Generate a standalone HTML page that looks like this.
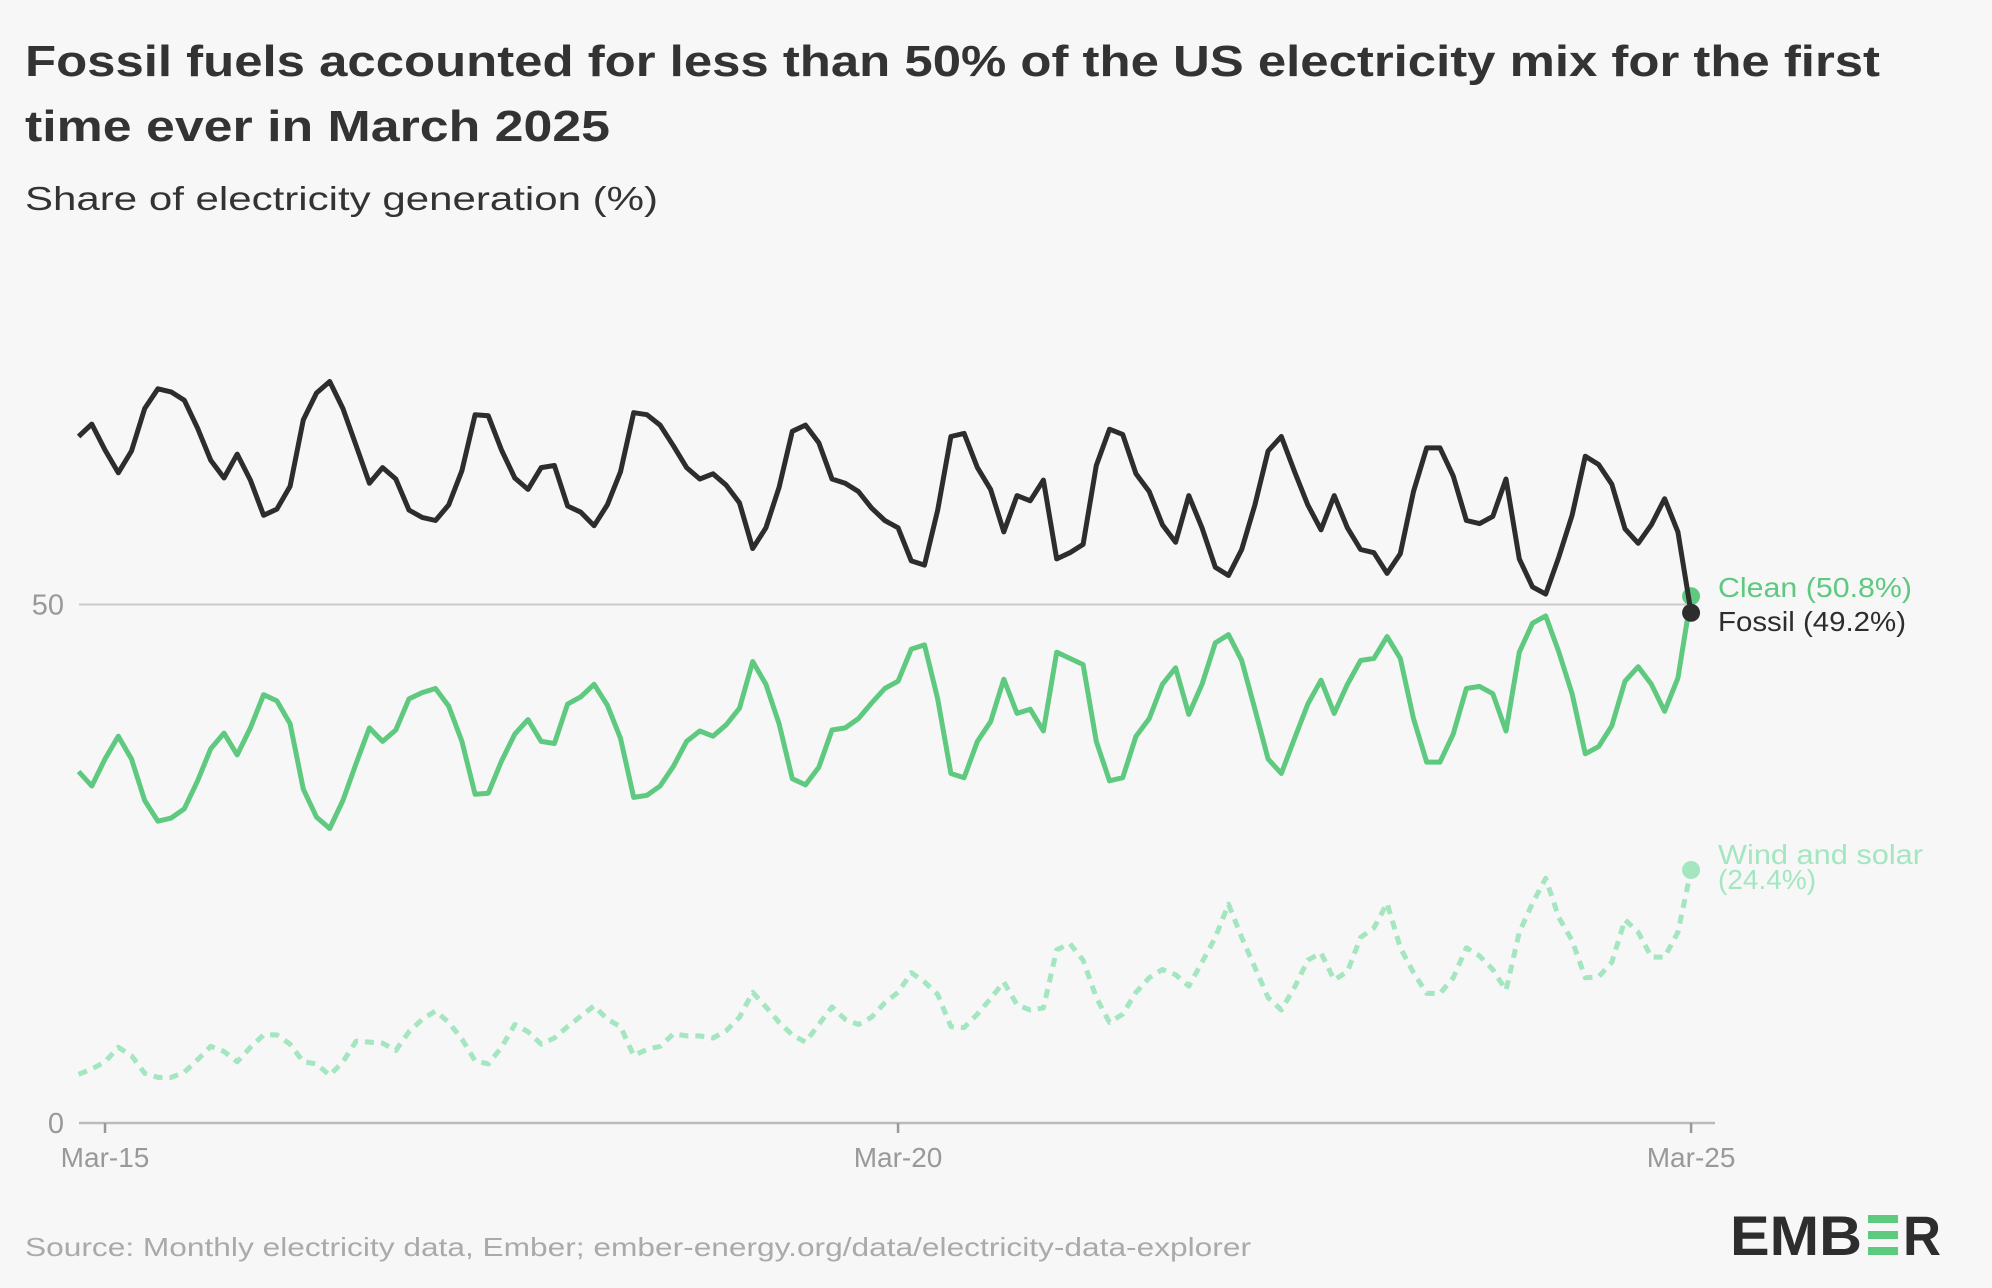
<!DOCTYPE html>
<html><head><meta charset="utf-8"><style>
html,body{margin:0;padding:0;background:#f7f7f7;}
svg{display:block;font-family:"Liberation Sans",sans-serif;}
</style></head><body>
<svg id="chart" width="1992" height="1288" viewBox="0 0 1992 1288" xmlns="http://www.w3.org/2000/svg">
<rect width="1992" height="1288" fill="#f7f7f7"/>
<text x="25" y="76" font-size="44" font-weight="bold" fill="#333" textLength="1855" lengthAdjust="spacingAndGlyphs">Fossil fuels accounted for less than 50% of the US electricity mix for the first</text>
<text x="25" y="141" font-size="44" font-weight="bold" fill="#333" textLength="585" lengthAdjust="spacingAndGlyphs">time ever in March 2025</text>
<text x="25" y="210" font-size="33" fill="#333" textLength="633" lengthAdjust="spacingAndGlyphs">Share of electricity generation (%)</text>
<g id="plot"></g>
<text x="25" y="1256" font-size="26" fill="#aaa" textLength="1226" lengthAdjust="spacingAndGlyphs">Source: Monthly electricity data, Ember; ember-energy.org/data/electricity-data-explorer</text>
<g>
<text x="1730" y="1255" font-size="56" font-weight="bold" fill="#2d2d2d" textLength="132" lengthAdjust="spacingAndGlyphs">EMB</text>
<rect x="1868" y="1215" width="30" height="8" fill="#5ec97f"/>
<rect x="1868" y="1231" width="30" height="8" fill="#5ec97f"/>
<rect x="1868" y="1247" width="30" height="8" fill="#5ec97f"/>
<text x="1903" y="1255" font-size="56" font-weight="bold" fill="#2d2d2d" textLength="38" lengthAdjust="spacingAndGlyphs">R</text>
</g>
</svg>
<script>
const fossil=[66.2,67.4,64.9,62.7,64.8,68.9,70.8,70.5,69.7,67.0,63.9,62.2,64.5,62.0,58.6,59.2,61.4,67.8,70.4,71.5,68.9,65.3,61.7,63.2,62.1,59.1,58.4,58.1,59.6,62.9,68.3,68.2,
64.9,62.2,61.1,63.2,63.4,59.5,58.9,57.6,59.6,62.8,68.5,68.3,67.3,65.3,63.2,62.1,62.6,61.5,59.8,55.4,57.4,61.3,66.7,67.3,65.6,62.1,61.7,60.9,59.3,58.1,57.4,
54.2,53.8,59.1,66.2,66.5,63.2,61.1,57.0,60.5,60.0,62.0,54.4,55.0,55.8,63.4,66.9,66.4,62.6,60.9,57.7,56.0,60.5,57.4,53.6,52.8,55.3,59.6,64.8,66.2,62.8,59.6,
57.2,60.5,57.4,55.3,55.0,53.0,54.9,60.9,65.1,65.1,62.4,58.1,57.8,58.5,62.1,54.4,51.7,51.0,54.6,58.6,64.3,63.5,61.6,57.3,55.9,57.7,60.2,57.0,49.2];
const clean=[33.9,32.5,35.1,37.3,35.1,31.1,29.1,29.4,30.3,33.0,36.1,37.6,35.5,38.1,41.3,40.7,38.5,32.2,29.5,28.4,31.1,34.7,38.1,36.8,37.9,40.9,41.5,41.9,40.2,36.8,31.7,31.8,
34.9,37.5,38.9,36.8,36.6,40.4,41.1,42.3,40.3,37.1,31.4,31.6,32.5,34.4,36.8,37.8,37.3,38.4,40.0,44.5,42.3,38.5,33.2,32.6,34.3,37.9,38.1,39.0,40.5,41.9,42.6,
45.7,46.1,40.9,33.7,33.3,36.8,38.7,42.8,39.5,39.9,37.8,45.4,44.8,44.2,36.8,33.0,33.3,37.3,39.0,42.3,43.9,39.4,42.3,46.3,47.1,44.6,39.9,35.1,33.7,37.1,40.4,
42.7,39.5,42.3,44.6,44.8,46.9,44.8,39.0,34.8,34.8,37.5,41.9,42.1,41.4,37.8,45.4,48.2,48.9,45.4,41.4,35.6,36.3,38.3,42.6,44.0,42.3,39.7,42.9,50.8];
const windSolar=[4.7,5.2,5.9,7.3,6.5,4.8,4.4,4.4,4.9,6.1,7.4,6.9,5.9,7.3,8.5,8.5,7.6,5.9,5.7,4.6,5.9,7.9,7.8,7.7,7.0,8.8,10.0,10.8,9.7,8.1,6.0,5.7,
7.3,9.5,8.8,7.6,8.2,9.3,10.3,11.3,10.0,9.3,6.5,7.1,7.4,8.6,8.4,8.4,8.2,8.9,10.2,12.6,11.2,9.7,8.5,7.8,9.5,11.2,10.0,9.5,10.2,11.6,12.6,
14.5,13.6,12.4,9.3,9.2,10.5,12.0,13.6,11.4,10.9,11.1,16.7,17.3,15.7,12.1,9.7,10.5,12.6,14.0,14.8,14.3,13.2,15.5,17.9,21.1,17.9,15.0,12.1,10.9,13.1,15.7,
16.4,13.8,14.6,17.9,18.8,21.2,16.9,14.5,12.5,12.5,14.0,16.9,16.1,14.8,12.8,18.4,21.2,23.6,19.8,17.6,14.0,14.1,15.5,19.6,18.4,16.0,16.0,18.4,24.4];
const xTickLabels=["Mar-15","Mar-20","Mar-25"];
const xTickIndex=[2,62,122];
const yTicks=[0,50];

const NS="http://www.w3.org/2000/svg";
const plot=document.getElementById('plot');
const x0=78.6, dx=13.217;
const xs=i=>x0+dx*i;
const ys=v=>1123-v*10.37;
function el(tag,attrs,parent){const e=document.createElementNS(NS,tag);for(const k in attrs)e.setAttribute(k,attrs[k]);(parent||plot).appendChild(e);return e;}

yTicks.forEach(t=>{
  if(t>0){const g=el('line',{x1:79,x2:1691,y1:ys(t),y2:ys(t),stroke:'#ccc','stroke-width':2});
    
    }
  const lab=el('text',{x:64,y:ys(t)+10,'font-size':29,fill:'#999','text-anchor':'end'});
  lab.textContent=String(t);
  
  
});
const axis=el('line',{x1:79,x2:1715,y1:1123,y2:1123,stroke:'#bbb','stroke-width':2.5});


xTickLabels.forEach((l,k)=>{
  const x=xs(xTickIndex[k]);
  const tk=el('line',{x1:x,x2:x,y1:1123,y2:1133,stroke:'#999','stroke-width':2.5});
  
  
  const t=el('text',{x:x,y:1167,'font-size':28,fill:'#999','text-anchor':'middle'});
  t.textContent=l;
  
  
});

function series(data,color,dash,name){
  const p=el('polyline',{points:data.map((v,i)=>xs(i).toFixed(1)+','+ys(v).toFixed(1)).join(' '),fill:'none',stroke:color,'stroke-width':5,'stroke-linejoin':'round'});
  if(dash)p.setAttribute('stroke-dasharray',dash);
  
  
  const n=data.length-1;
  const c=el('circle',{cx:xs(n),cy:ys(data[n]),r:9,fill:color});
  
  
}
series(windSolar,'#a3e6c0','9 7','wind-solar');
series(clean,'#5ec97f',null,'clean');
series(fossil,'#2d2d2d',null,'fossil');

const lc=el('text',{x:1718,y:ys(clean[clean.length-1])+1,'font-size':28,fill:'#5ec97f',textLength:194,lengthAdjust:'spacingAndGlyphs'});
lc.textContent='Clean ('+clean[clean.length-1].toFixed(1)+'%)';


const lf=el('text',{x:1718,y:ys(fossil[fossil.length-1])+18,'font-size':28,fill:'#2d2d2d',textLength:188,lengthAdjust:'spacingAndGlyphs'});
lf.textContent='Fossil ('+fossil[fossil.length-1].toFixed(1)+'%)';


const lw=el('text',{x:1718,y:ys(windSolar[windSolar.length-1])-6,'font-size':28,fill:'#a3e6c0',textLength:205,lengthAdjust:'spacingAndGlyphs'});
lw.textContent='Wind and solar';


const lw2=el('text',{x:1718,y:ys(windSolar[windSolar.length-1])+19,'font-size':28,fill:'#a3e6c0'});
lw2.textContent='('+windSolar[windSolar.length-1].toFixed(1)+'%)';


</script>
</body></html>
